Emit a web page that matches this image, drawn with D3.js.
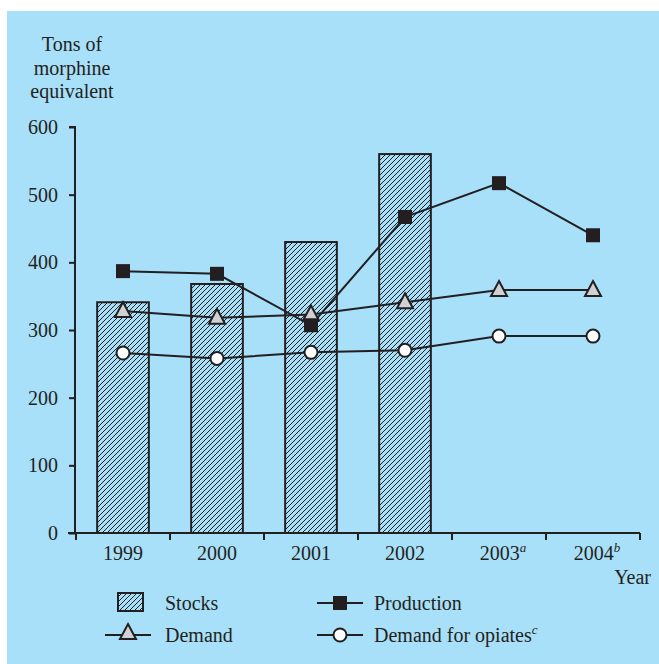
<!DOCTYPE html>
<html><head><meta charset="utf-8">
<script src="https://cdn.jsdelivr.net/npm/d3@7"></script>
<style>
html,body{margin:0;padding:0;background:#fff;}
svg{display:block;}
text{font-family:"Liberation Serif","Times New Roman",serif;fill:#231f20;}
</style></head><body>
<script>
const years = ["1999","2000","2001","2002","2003","2004"];
const yearSup = ["","","","","a","b"];
const stocks = [341, 368, 430, 560, null, null];
const production = [387, 383, 307, 467, 517, 440];
const demand = [328, 318, 323, 341, 359, 359];
const demandOpiates = [266, 258, 267, 270, 291, 291];
const yTicks = [0, 100, 200, 300, 400, 500, 600];

const W = 659, H = 664, FS = 20;
const ink = "#231f20";
const svg = d3.select("body").append("svg").attr("width", W).attr("height", H);
svg.append("rect").attr("x", 7).attr("y", 11).attr("width", W - 7).attr("height", H - 11).attr("fill", "#a8dff9");

const defs = svg.append("defs");
const pat = defs.append("pattern").attr("id", "hatch").attr("patternUnits", "userSpaceOnUse")
  .attr("width", 5).attr("height", 5);
pat.append("path").attr("d", "M-1,1 l2,-2 M0,5 l5,-5 M4,6 l2,-2").attr("stroke", ink).attr("stroke-width", 1);

const x = d3.scaleBand().domain(years).range([76, 640]).paddingInner(0.45).paddingOuter(0.225);
const xb = d3.scaleBand().domain(years).range([76, 640]);
const y = d3.scaleLinear().domain([0, 600]).range([533, 127]);

// bars
svg.append("g").selectAll("rect").data(years.filter((d, i) => stocks[i] != null)).join("rect")
  .attr("x", d => x(d)).attr("width", x.bandwidth())
  .attr("y", (d) => y(stocks[years.indexOf(d)]))
  .attr("height", d => y(0) - y(stocks[years.indexOf(d)]))
  .attr("fill", "url(#hatch)").attr("stroke", ink).attr("stroke-width", 2);

// y axis
const ya = svg.append("g").attr("transform", "translate(75,0)")
  .call(d3.axisLeft(y).tickValues(yTicks).tickSize(6).tickPadding(11).tickFormat(d3.format("d")));
ya.select(".domain").attr("d", `M-6,${y(600)}H0V${y(0)}`).attr("stroke", ink).attr("stroke-width", 2);
ya.selectAll(".tick line").attr("stroke", ink).attr("stroke-width", 2);
ya.selectAll(".tick text").attr("font-size", FS).attr("fill", ink).attr("dy", "0.33em")
  .style("font-family", "Liberation Serif");

// x axis
const xa = svg.append("g").attr("transform", `translate(0,${y(0)})`);
xa.append("line").attr("x1", 68).attr("x2", 640).attr("y1", 0).attr("y2", 0).attr("stroke", ink).attr("stroke-width", 2);
const bounds = years.map(d => xb(d)).concat([xb(years[years.length - 1]) + xb.bandwidth()]);
xa.selectAll("line.tk").data(bounds).join("line").attr("class", "tk")
  .attr("x1", d => d).attr("x2", d => d).attr("y1", 0).attr("y2", 7).attr("stroke", ink).attr("stroke-width", 2);
const xl = xa.selectAll("text.lab").data(years).join("text").attr("class", "lab")
  .attr("x", d => xb(d) + xb.bandwidth() / 2 + (yearSup[years.indexOf(d)] ? 4 : 0))
  .attr("y", 27).attr("text-anchor", "middle").attr("font-size", FS);
xl.each(function(d, i) {
  const t = d3.select(this);
  t.append("tspan").text(d);
  if (yearSup[i]) t.append("tspan").attr("dy", -8).attr("font-size", 13).attr("font-style", "italic").text(yearSup[i]);
});

svg.append("text").attr("x", 651).attr("y", 584).attr("text-anchor", "end").attr("font-size", FS).text("Year");

// axis title
const tt = svg.append("text").attr("x", 72).attr("text-anchor", "middle").attr("font-size", FS);
["Tons of", "morphine", "equivalent"].forEach((s, i) => tt.append("tspan").attr("x", 72).attr("y", 51 + i * 23.5).text(s));

const cx = d => xb(d) + xb.bandwidth() / 2;
const line = d3.line().x(d => cx(d.year)).y(d => y(d.v));
function series(vals) { return years.map((yr, i) => ({year: yr, v: vals[i]})); }

function drawLine(vals) {
  svg.append("path").datum(series(vals)).attr("d", line).attr("fill", "none").attr("stroke", ink).attr("stroke-width", 2);
}
drawLine(demandOpiates);
drawLine(demand);
drawLine(production);

function square(g, px, py) {
  g.append("rect").attr("x", px - 7).attr("y", py - 7).attr("width", 14).attr("height", 14).attr("fill", ink);
}
function tri(g, px, py) {
  g.append("path").attr("d", `M${px},${py - 9}L${px + 8},${py + 6}L${px - 8},${py + 6}Z`)
    .attr("fill", "#cfd1d3").attr("stroke", ink).attr("stroke-width", 2).attr("stroke-linejoin", "miter");
}
function circ(g, px, py) {
  g.append("circle").attr("cx", px).attr("cy", py).attr("r", 6.5).attr("fill", "#fff").attr("stroke", ink).attr("stroke-width", 2);
}
const mg = svg.append("g");
series(demandOpiates).forEach(d => circ(mg, cx(d.year), y(d.v)));
series(demand).forEach(d => tri(mg, cx(d.year), y(d.v)));
series(production).forEach(d => square(mg, cx(d.year), y(d.v)));

// legend
const lg = svg.append("g");
lg.append("rect").attr("x", 118).attr("y", 593).attr("width", 25).attr("height", 18).attr("fill", "url(#hatch)").attr("stroke", ink).attr("stroke-width", 2);
lg.append("text").attr("x", 165).attr("y", 610).attr("font-size", FS).text("Stocks");
lg.append("line").attr("x1", 317).attr("x2", 363).attr("y1", 603).attr("y2", 603).attr("stroke", ink).attr("stroke-width", 2);
square(lg, 340, 603);
lg.append("text").attr("x", 374).attr("y", 610).attr("font-size", FS).text("Production");
lg.append("line").attr("x1", 105).attr("x2", 151).attr("y1", 635).attr("y2", 635).attr("stroke", ink).attr("stroke-width", 2);
tri(lg, 128, 633);
lg.append("text").attr("x", 165).attr("y", 642).attr("font-size", FS).text("Demand");
lg.append("line").attr("x1", 317).attr("x2", 363).attr("y1", 635).attr("y2", 635).attr("stroke", ink).attr("stroke-width", 2);
circ(lg, 340, 635);
const lt = lg.append("text").attr("x", 374).attr("y", 642).attr("font-size", FS);
lt.append("tspan").text("Demand for opiates");
lt.append("tspan").attr("dy", -8).attr("font-size", 13).attr("font-style", "italic").text("c");
</script>
</body></html>
